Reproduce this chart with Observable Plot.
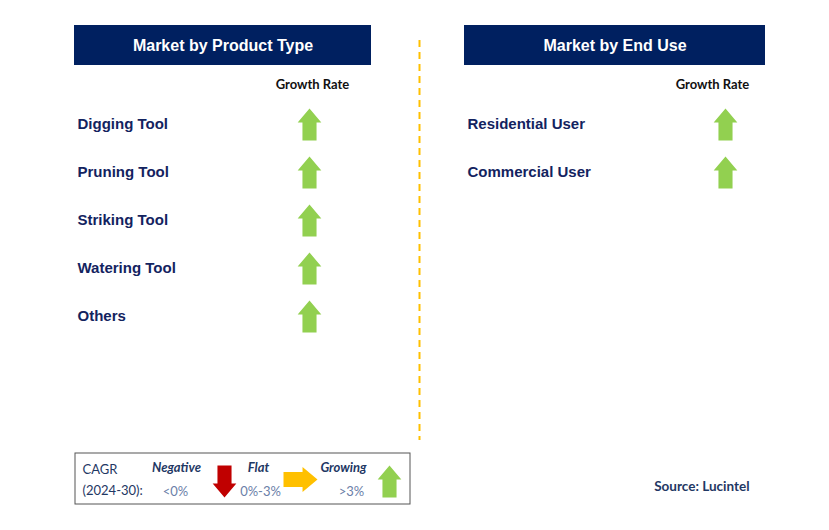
<!DOCTYPE html>
<html><head><meta charset="utf-8">
<script src="https://cdn.jsdelivr.net/npm/d3@7"></script>
<script src="https://cdn.jsdelivr.net/npm/@observablehq/plot@0.6"></script>
<style>body{margin:0;background:#fff}</style>
</head><body><div id="chart"></div>
<script>
// ---- data ----
const panelTitles = ["Market by Product Type", "Market by End Use"];
const productTypes = ["Digging Tool", "Pruning Tool", "Striking Tool", "Watering Tool", "Others"];
const productGrowth = ["Growing", "Growing", "Growing", "Growing", "Growing"];
const endUses = ["Residential User", "Commercial User"];
const endUseGrowth = ["Growing", "Growing"];
const legendCategories = ["Negative", "Flat", "Growing"];
const legendRanges = ["<0%", "0%-3%", ">3%"];
const columnHeader = "Growth Rate";
const cagrLabel = ["CAGR", "(2024-30):"];
const sourceText = "Source: Lucintel";

// ---- style / layout ----
const navy = "#002060", labelNavy = "#13235f";
const arrowColor = {Negative: "#C00000", Flat: "#FFC000", Growing: "#92D050"};
const arrowRotate = {Negative: 180, Flat: 90, Growing: 0};
const panels = [
  {x0: 74, x1: 371, labelX: 77, arrowX: 309, headerX: 312},
  {x0: 464, x1: 765, labelX: 467, arrowX: 725, headerX: 712}
];
const rowY = i => 124 + 48 * i;

// up-arrow symbol; r = half length
const arrow = {
  draw(ctx, size) {
    const r = Math.sqrt(size / Math.PI);
    const hw = r * 0.74, sw = r * 0.44, hb = -r * 0.12;
    ctx.moveTo(0, -r);
    ctx.lineTo(hw, hb);
    ctx.lineTo(sw, hb);
    ctx.lineTo(sw, r);
    ctx.lineTo(-sw, r);
    ctx.lineTo(-sw, hb);
    ctx.lineTo(-hw, hb);
    ctx.closePath();
  }
};

const rows = [
  ...productTypes.map((name, i) => ({panel: 0, name, growth: productGrowth[i], i})),
  ...endUses.map((name, i) => ({panel: 1, name, growth: endUseGrowth[i], i}))
];
const headers = panelTitles.map((t, p) => ({t, ...panels[p]}));
const legend = legendCategories.map((c, i) => ({c, range: legendRanges[i], i}));
const legX = [176, 258, 343], legRangeX = [175, 260, 351], legArrowX = [224, 300, 389], legArrowY = [481, 479, 481];

const fontHead = "Liberation Sans, Arial, sans-serif";
const fontCal = "Lato, Open Sans, sans-serif";

const chart = Plot.plot({
  width: 829, height: 530,
  margin: 0,
  x: {type: "identity", axis: null}, y: {type: "identity", axis: null},
  r: {type: "identity"},
  marks: [
    // header boxes
    Plot.rect(headers, {x1: "x0", x2: "x1", y1: 25, y2: 65, fill: navy}),
    Plot.text(headers, {x: d => (d.x0 + d.x1) / 2, y: 45, text: "t", fill: "white",
      fontFamily: fontHead, fontWeight: "bold", fontSize: 16}),
    Plot.text(headers, {x: "headerX", y: 84, text: () => columnHeader, fill: "#111",
      fontFamily: fontCal, fontWeight: "bold", fontSize: 13}),
    // divider
    Plot.ruleX([419], {y1: 40, y2: 440, stroke: "#FFC000", strokeWidth: 2, strokeDasharray: "7,5"}),
    // row labels
    Plot.text(rows, {x: d => panels[d.panel].labelX, y: d => rowY(d.i), text: "name", textAnchor: "start",
      fill: labelNavy, fontFamily: fontHead, fontWeight: "bold", fontSize: 15}),
    // arrows
    Plot.dot(rows, {x: d => panels[d.panel].arrowX, y: d => rowY(d.i), r: 16, symbol: arrow,
      fill: d => arrowColor[d.growth], stroke: null, rotate: d => arrowRotate[d.growth]}),
    // legend box
    Plot.rect([0], {x1: 75, x2: 410, y1: 453, y2: 504, fill: "white", stroke: "#555", strokeWidth: 1}),
    Plot.text(cagrLabel, {x: 82, y: (d, i) => 469 + 21 * i, text: d => d, textAnchor: "start",
      fill: "#1f3864", fontFamily: fontCal, fontSize: 13}),
    Plot.text(legend, {x: d => legX[d.i], y: 467, text: "c", fill: "#1f3864",
      fontFamily: fontCal, fontStyle: "italic", fontWeight: "bold", fontSize: 13}),
    Plot.text(legend, {x: d => legRangeX[d.i], y: 491, text: "range", fill: "#6b80a8",
      fontFamily: fontCal, fontSize: 13}),
    Plot.dot(legend, {x: d => legArrowX[d.i], y: d => legArrowY[d.i], r: d => d.c === "Flat" ? 17 : 16,
      symbol: arrow, fill: d => arrowColor[d.c], stroke: null, rotate: d => arrowRotate[d.c]}),
    // source
    Plot.text([sourceText], {x: 749, y: 486, text: d => d, textAnchor: "end", fill: "#1f3864",
      fontFamily: fontCal, fontWeight: "bold", fontSize: 13.5})
  ]
});
document.getElementById("chart").appendChild(chart);
</script>
</body></html>
